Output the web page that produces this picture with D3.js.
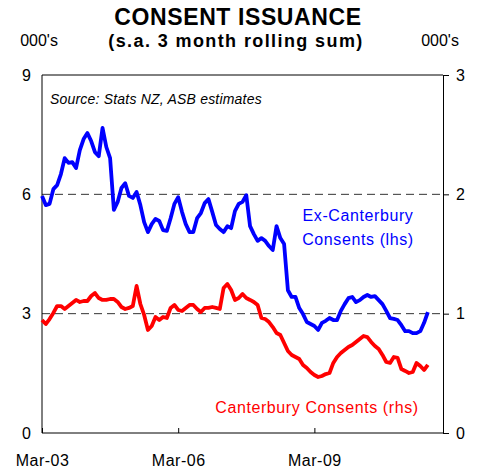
<!DOCTYPE html>
<html><head><meta charset="utf-8">
<script src="https://cdn.jsdelivr.net/npm/d3@7"></script>
<style>body{margin:0;background:#fff;}svg{display:block;font-family:Arial,"Liberation Sans",sans-serif;}</style>
</head><body><svg id="c" width="477" height="472"></svg>
<script>
// month index 0 = Mar-03
const exCanterbury = [5.96,5.73,5.76,6.13,6.23,6.51,6.91,6.79,6.81,6.66,7.11,7.39,7.54,7.34,7.06,6.96,7.67,7.19,6.91,5.61,5.81,6.16,6.28,5.96,5.91,6.06,5.73,5.30,5.05,5.25,5.38,5.33,5.10,5.08,5.40,5.76,5.93,5.56,5.25,5.05,5.05,5.40,5.53,5.78,5.88,5.56,5.23,5.13,5.05,5.20,5.15,5.58,5.76,5.81,5.98,5.20,5.00,4.83,4.90,4.83,4.70,4.60,5.20,4.90,4.75,3.59,3.42,3.42,3.14,2.99,2.79,2.74,2.69,2.59,2.77,2.82,2.89,2.84,2.84,3.07,3.24,3.39,3.42,3.29,3.34,3.42,3.47,3.42,3.44,3.34,3.24,3.07,2.89,2.87,2.84,2.71,2.56,2.56,2.51,2.51,2.56,2.77,3.04];
const canterbury = [0.947,0.913,0.955,1.006,1.064,1.064,1.039,1.064,1.089,1.115,1.098,1.106,1.106,1.148,1.173,1.131,1.115,1.115,1.123,1.123,1.098,1.056,1.039,1.048,1.064,1.232,1.081,0.989,0.863,0.897,0.972,0.947,0.972,0.964,1.048,1.073,1.031,1.022,1.048,1.073,1.073,1.039,1.014,1.048,1.048,1.056,1.048,1.039,1.215,1.249,1.198,1.115,1.131,1.165,1.131,1.115,1.098,1.073,0.964,0.955,0.930,0.888,0.838,0.821,0.754,0.687,0.654,0.637,0.620,0.570,0.545,0.511,0.486,0.469,0.478,0.494,0.503,0.587,0.637,0.670,0.696,0.721,0.737,0.763,0.788,0.813,0.804,0.763,0.729,0.704,0.654,0.595,0.587,0.637,0.629,0.536,0.520,0.503,0.511,0.587,0.561,0.528,0.570];
const xTickMonths = [0, 36, 72];
const xTickLabels = ["Mar-03", "Mar-06", "Mar-09"];
const leftTicks = [0, 3, 6, 9];
const rightTicks = [0, 1, 2, 3];
const gridLeft = [3, 6];

const FONT = "Arial,'Liberation Sans',sans-serif";
const svg = d3.select("#c");
const L = 42, R = 443, T = 75, B = 433;
const x = d3.scaleLinear().domain([0, 106]).range([L, R]);
const yL = d3.scaleLinear().domain([0, 9]).range([B, T]);
const yR = d3.scaleLinear().domain([0, 3]).range([B, T]);

// titles
svg.append("text").attr("x", 238).attr("y", 25).attr("text-anchor", "middle")
  .attr("font-size", 23).attr("font-weight", "bold").attr("letter-spacing", 0.6).text("CONSENT ISSUANCE");
svg.append("text").attr("x", 236).attr("y", 47).attr("text-anchor", "middle")
  .attr("font-size", 18).attr("font-weight", "bold").attr("letter-spacing", 1.4).text("(s.a. 3 month rolling sum)");
svg.append("text").attr("x", 39).attr("y", 46).attr("text-anchor", "middle").attr("font-size", 16).text("000's");
svg.append("text").attr("x", 440).attr("y", 46).attr("text-anchor", "middle").attr("font-size", 16).text("000's");

// gridlines
svg.selectAll(".grid").data(gridLeft).join("line")
  .attr("x1", L).attr("x2", R).attr("y1", d => yL(d)).attr("y2", d => yL(d))
  .attr("stroke", "#333").attr("stroke-width", 1).attr("stroke-dasharray", "8,5");

// frame: left, top
svg.append("line").attr("x1", L).attr("x2", L).attr("y1", T).attr("y2", B).attr("stroke", "#000");
svg.append("line").attr("x1", L).attr("x2", R).attr("y1", T).attr("y2", T).attr("stroke", "#000");

// left axis labels
const gl = svg.append("g").attr("transform", `translate(${L},0)`)
  .call(d3.axisLeft(yL).tickValues(leftTicks).tickSize(0).tickPadding(11).tickFormat(d3.format("d")));
gl.select(".domain").remove();
gl.selectAll("text").attr("font-size", 16).attr("font-family", FONT).attr("fill", "#000");

// right axis
const gr = svg.append("g").attr("transform", `translate(${R},0)`)
  .call(d3.axisRight(yR).tickValues(rightTicks).tickSize(6).tickPadding(7).tickFormat(d3.format("d")));
gr.select(".domain").attr("stroke", "#000");
gr.selectAll("text").attr("font-size", 16).attr("font-family", FONT).attr("fill", "#000");

// bottom axis
const gb = svg.append("g").attr("transform", `translate(0,${B})`)
  .call(d3.axisBottom(x).tickValues(xTickMonths).tickSize(-5).tickPadding(22).tickFormat((d, i) => xTickLabels[i]));
gb.select(".domain").attr("d", `M${L},0H${R}`).attr("stroke", "#000");
gb.selectAll("text").attr("font-size", 16).attr("letter-spacing", 0.5).attr("font-family", FONT).attr("fill", "#000");

// source
svg.append("text").attr("x", 50).attr("y", 104).attr("font-size", 14).attr("letter-spacing", 0.2).attr("font-style", "italic").text("Source: Stats NZ, ASB estimates");

// lines
const lineL = d3.line().x((d, i) => x(i)).y(d => yL(d));
const lineR = d3.line().x((d, i) => x(i)).y(d => yR(d));
svg.append("path").attr("d", lineR(canterbury)).attr("fill", "none").attr("stroke", "#FF0000")
  .attr("stroke-width", 3.8).attr("stroke-linejoin", "round");
svg.append("path").attr("d", lineL(exCanterbury)).attr("fill", "none").attr("stroke", "#0000FF")
  .attr("stroke-width", 3.8).attr("stroke-linejoin", "round");

// labels
svg.append("text").attr("x", 358).attr("y", 221).attr("text-anchor", "middle").attr("font-size", 16).attr("letter-spacing", 0.6).attr("fill", "#0000FF").text("Ex-Canterbury");
svg.append("text").attr("x", 358).attr("y", 245).attr("text-anchor", "middle").attr("font-size", 16).attr("letter-spacing", 0.6).attr("fill", "#0000FF").text("Consents (lhs)");
svg.append("text").attr("x", 317).attr("y", 413).attr("text-anchor", "middle").attr("font-size", 16).attr("letter-spacing", 0.6).attr("fill", "#FF0000").text("Canterbury Consents (rhs)");
</script></body></html>
